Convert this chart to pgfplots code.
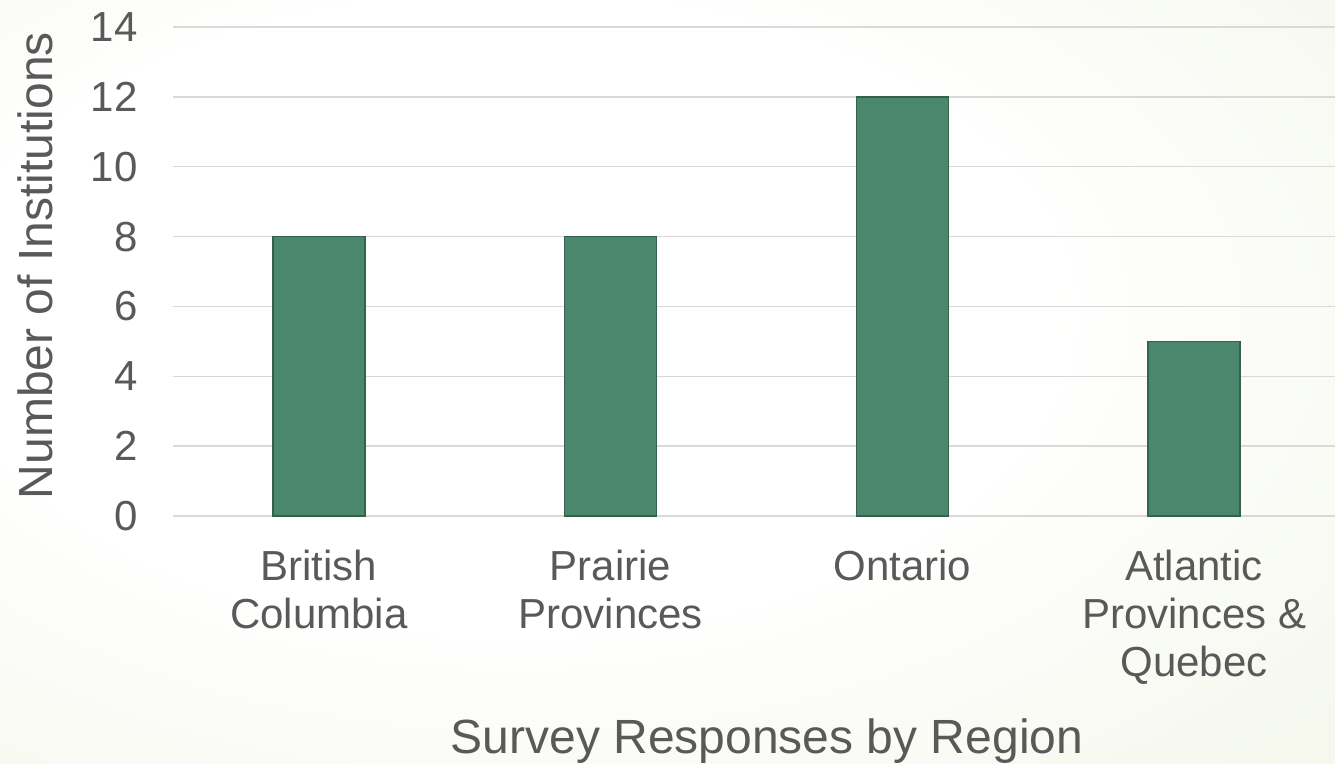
\documentclass[border=0pt]{standalone}
\usepackage{pgfplots}
\pgfplotsset{compat=1.18}
\usepackage{fontspec}
\setmainfont{Liberation Sans}
\definecolor{txt}{HTML}{595959}
\definecolor{barfill}{HTML}{4A876D}
\definecolor{baredge}{HTML}{33614B}
\definecolor{gridc}{HTML}{D9D9D9}
\definecolor{bgA}{HTML}{F0F4E4}
\definecolor{bgB}{HTML}{E7EDD2}
\definecolor{bgC}{HTML}{E2EAC8}
\pgfdeclareradialshading{bgshade}{\pgfpoint{-8bp}{6bp}}{color(0bp)=(white); color(20bp)=(white); color(50bp)=(bgA); color(70bp)=(bgB); color(82bp)=(bgC)}
\begin{document}
\begin{tikzpicture}
\useasboundingbox (0,0) rectangle (667.5pt,382pt);
\shade[shading=bgshade] (0,0) rectangle (667.5pt,382pt);
\begin{axis}[
  at={(86.5pt,124pt)}, anchor=south west,
  width=581pt, height=244.5pt, scale only axis,
  xmin=-0.5, xmax=3.483, ymin=0, ymax=14,
  ytick={0,2,...,14},
  xtick=data,
  xticklabels={British\\Columbia, Prairie\\Provinces, Ontario, Atlantic\\Provinces \&\\Quebec},
  axis line style={draw=none},
  major tick length=0pt,
  ymajorgrids,
  grid style={draw=gridc, line width=0.75pt},
  tick label style={font=\fontsize{21pt}{24pt}\selectfont, text=txt},
  xticklabel style={align=center, anchor=north, inner sep=0pt, yshift=-17pt},
  yticklabel style={anchor=east, inner sep=0pt, xshift=-17.5pt},
  /pgf/number format/assume math mode=true,
  label style={font=\fontsize{24pt}{28pt}\selectfont, text=txt},
  xlabel={Survey Responses by Region},
  ylabel={Number of Institutions},
  xlabel style={at={(axis description cs:0.5112,-0.4867)}, anchor=base, inner sep=0pt},
  ylabel style={at={(axis description cs:-0.1041,0.512)}, anchor=base, inner sep=0pt},
  ybar, bar width=0.315,
  clip=false,
]
\addplot[fill=barfill, draw=baredge, line width=0.8pt] coordinates {(0,8) (1,8) (2,12) (3,5)};
\end{axis}
\end{tikzpicture}
\end{document}
